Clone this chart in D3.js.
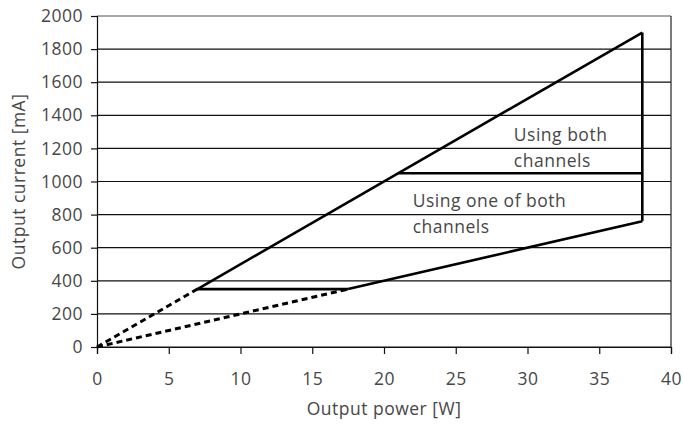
<!DOCTYPE html>
<html>
<head>
<meta charset="utf-8">
<script src="https://cdn.jsdelivr.net/npm/d3@7"></script>
<style>
  body { margin: 0; background: #fff; }
  svg text { font-family: "Open Sans", sans-serif; fill: #474747; letter-spacing: 0.5px; }
</style>
</head>
<body>
<svg id="chart" width="683" height="425"></svg>
<script>
// ticks
const xTicks = [0, 5, 10, 15, 20, 25, 30, 35, 40];
const yTicks = [0, 200, 400, 600, 800, 1000, 1200, 1400, 1600, 1800, 2000];

// upper limit (both channels): dashed up to 7 W, then solid
const bothPower = [0, 7, 38];
const bothCurrent = [0, 350, 1900];
// lower limit (one channel): dashed up to 17.5 W, then solid
const onePower = [0, 17.5, 38];
const oneCurrent = [0, 350, 760];
// max power edge
const edgePower = [38, 38];
const edgeCurrent = [760, 1900];
// horizontal steps
const stepBothPower = [21, 38];
const stepBothCurrent = [1050, 1050];
const stepOnePower = [7, 17.5];
const stepOneCurrent = [350, 350];

const labels = [
  { lines: ["Using both", "channels"], power: 29.05, current: 1246 },
  { lines: ["Using one of both", "channels"], power: 22.0, current: 848 },
];

const margin = { top: 16, right: 12, bottom: 78, left: 97 };
const W = 683, H = 425;
const width = W - margin.left - margin.right;
const height = H - margin.top - margin.bottom;
const fs = 17.5;

const svg = d3.select("#chart");
const g = svg.append("g").attr("transform", `translate(${margin.left},${margin.top})`);

const x = d3.scaleLinear().domain([0, 40]).range([0, width]);
const y = d3.scaleLinear().domain([0, 2000]).range([height, 0]);

// gridlines
g.append("g")
  .selectAll("line")
  .data(yTicks)
  .join("line")
  .attr("x1", 0)
  .attr("x2", width)
  .attr("y1", (d) => y(d))
  .attr("y2", (d) => y(d))
  .attr("stroke", (d) => (d === 2000 ? "#555" : "#111"))
  .attr("stroke-width", 1.2);

// right border
g.append("line")
  .attr("x1", width).attr("x2", width)
  .attr("y1", 0).attr("y2", height)
  .attr("stroke", "#222").attr("stroke-width", 1.2);

// y axis
g.append("g")
  .call(d3.axisLeft(y).tickValues(yTicks).tickSize(6).tickPadding(8).tickFormat(d3.format("d")))
  .call((a) => a.select(".domain").attr("stroke", "#111").attr("stroke-width", 1.2))
  .call((a) => a.selectAll(".tick line").attr("stroke", "#111").attr("stroke-width", 1.2))
  .call((a) => a.selectAll(".tick text").attr("font-size", fs).attr("font-family", null).attr("fill", null));

// x axis
g.append("g")
  .attr("transform", `translate(0,${height})`)
  .call(d3.axisBottom(x).tickValues(xTicks).tickSize(7).tickPadding(31).tickFormat(d3.format("d")))
  .call((a) => a.select(".domain").attr("stroke", "#111").attr("stroke-width", 1.2))
  .call((a) => a.selectAll(".tick line").attr("stroke", "#111").attr("stroke-width", 1.2))
  .call((a) => a.selectAll(".tick text").attr("font-size", fs).attr("font-family", null).attr("fill", null).attr("dy", "0"));

// axis titles
svg.append("text")
  .attr("x", margin.left + width / 2)
  .attr("y", 415)
  .attr("text-anchor", "middle")
  .attr("font-size", fs)
  .text("Output power [W]");

svg.append("text")
  .attr("transform", `translate(25,${margin.top + height / 2}) rotate(-90)`)
  .attr("text-anchor", "middle")
  .attr("font-size", fs)
  .text("Output current [mA]");

const line = d3.line().x((d) => x(d[0])).y((d) => y(d[1]));
const pairs = (px, py) => px.map((p, i) => [p, py[i]]);

const drawSeg = (pts, dashed) => {
  g.append("path")
    .attr("d", line(pts))
    .attr("fill", "none")
    .attr("stroke", "#000")
    .attr("stroke-width", dashed ? 3 : 2.6)
    .attr("stroke-dasharray", dashed ? "6,4" : null);
};

const both = pairs(bothPower, bothCurrent);
const one = pairs(onePower, oneCurrent);
drawSeg(both.slice(0, 2), true);
drawSeg(both.slice(1), false);
drawSeg(one.slice(0, 2), true);
drawSeg(one.slice(1), false);
drawSeg(pairs(edgePower, edgeCurrent), false);
drawSeg(pairs(stepBothPower, stepBothCurrent), false);
drawSeg(pairs(stepOnePower, stepOneCurrent), false);

// annotations
labels.forEach((l) => {
  const t = g.append("text")
    .attr("x", x(l.power))
    .attr("y", y(l.current))
    .attr("font-size", fs);
  l.lines.forEach((s, i) => {
    t.append("tspan").attr("x", x(l.power)).attr("dy", i === 0 ? 0 : 26).text(s);
  });
});
</script>
</body>
</html>
